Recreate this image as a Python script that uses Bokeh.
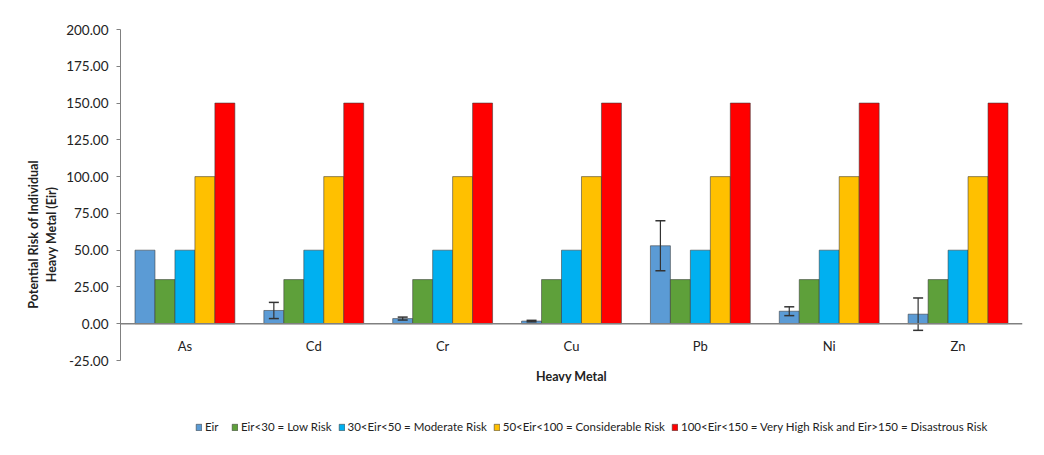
from bokeh.plotting import figure
from bokeh.models import (ColumnDataSource, FactorRange, Legend, LegendItem,
                          NumeralTickFormatter, FixedTicker, Range1d, Span, Label)
from bokeh.transform import dodge
from bokeh.core.properties import value
from bokeh.embed import file_html
from bokeh.resources import INLINE

metals = ["As", "Cd", "Cr", "Cu", "Pb", "Ni", "Zn"]
eir = [50.0, 9.0, 3.5, 1.8, 53.0, 8.5, 6.5]
eir_err = [0.0, 5.5, 1.0, 0.5, 17.0, 3.0, 11.0]
low_risk = [30, 30, 30, 30, 30, 30, 30]
moderate_risk = [50, 50, 50, 50, 50, 50, 50]
considerable_risk = [100, 100, 100, 100, 100, 100, 100]
very_high_risk = [150, 150, 150, 150, 150, 150, 150]
y_ticks = [-25, 0, 25, 50, 75, 100, 125, 150, 175, 200]

series_labels = ["Eir", "Eir<30 = Low Risk", "30<Eir<50 = Moderate Risk",
                 "50<Eir<100 = Considerable Risk",
                 "100<Eir<150 = Very High Risk and Eir>150 = Disastrous Risk"]
series_keys = ["eir", "low", "mod", "cons", "vhigh"]
colors = ["#5B9BD5", "#5EA03A", "#00B0F0", "#FFC000", "#FF0000"]
offsets = [-0.31, -0.155, 0.0, 0.155, 0.31]

FONT = "Lato"

src = ColumnDataSource(dict(
    metal=metals, eir=eir, low=low_risk, mod=moderate_risk,
    cons=considerable_risk, vhigh=very_high_risk,
    label_y=[-15] * len(metals),
))

err_m = [m for m, e in zip(metals, eir_err) if e > 0]
err_up = [v + e for v, e in zip(eir, eir_err) if e > 0]
err_lo = [v - e for v, e in zip(eir, eir_err) if e > 0]
err_src = ColumnDataSource(dict(metal=err_m, upper=err_up, lower=err_lo))

p = figure(x_range=FactorRange(factors=metals), y_range=Range1d(-78.7, 200),
           width=1028, height=439, output_backend="svg", toolbar_location=None,
           min_border_left=120, min_border_right=6, min_border_top=29, min_border_bottom=0)
p.x_range.range_padding = 0.0

renderers = []
for key, col, off in zip(series_keys, colors, offsets):
    r = p.vbar(x=dodge("metal", off, range=p.x_range), top=key, width=0.155, source=src,
               fill_color=col, line_color="#3a3a3a", line_width=0.8, line_alpha=0.7)
    renderers.append(r)

ex = dodge("metal", offsets[0], range=p.x_range)
p.segment(x0=ex, y0="lower", x1=ex, y1="upper", source=err_src,
          line_color="#333333", line_width=1.2)
p.scatter(x=ex, y="upper", source=err_src, marker="dash", size=10,
          line_color="#333333", line_width=1.5)
p.scatter(x=ex, y="lower", source=err_src, marker="dash", size=10,
          line_color="#333333", line_width=1.5)

zero = Span(location=0, dimension="width", line_color="#808080", line_width=1.5)
p.add_layout(zero)

p.text(x="metal", y="label_y", text="metal", source=src, text_align="center",
       text_baseline="middle", text_font=value(FONT), text_font_size="13px",
       text_color="#222222")

xtitle = Label(x=3.5, y=-36, text="Heavy Metal", text_align="center",
               text_baseline="middle", text_font=FONT, text_font_size="12.5px",
               text_font_style="bold", text_color="#222222")
p.add_layout(xtitle)

p.xgrid.visible = False
p.ygrid.visible = False
p.outline_line_color = None
p.background_fill_color = "white"
p.border_fill_color = "white"
p.xaxis.visible = False

p.yaxis.ticker = FixedTicker(ticks=y_ticks)
p.yaxis.bounds = (-25, 200)
p.yaxis.formatter = NumeralTickFormatter(format="0.00")
p.yaxis.minor_tick_line_color = None
p.yaxis.major_tick_out = 4
p.yaxis.major_tick_in = 0
p.yaxis.axis_line_color = "#808080"
p.yaxis.major_tick_line_color = "#808080"
p.yaxis.major_label_text_font = FONT
p.yaxis.major_label_text_font_size = "13.5px"
p.yaxis.major_label_text_color = "#222222"
p.yaxis.major_label_standoff = 8
p.yaxis.axis_label = "Potential Risk of Individual\nHeavy Metal (Eir)"
p.yaxis.axis_label_text_font = FONT
p.yaxis.axis_label_text_font_size = "12.5px"
p.yaxis.axis_label_text_font_style = "bold"
p.yaxis.axis_label_text_color = "#222222"
p.yaxis.axis_label_standoff = 4

legend = Legend(items=[LegendItem(label=l, renderers=[r]) for l, r in zip(series_labels, renderers)],
                orientation="horizontal", location=(75, 6),
                label_text_font=FONT, label_text_font_size="11.5px", label_text_color="#222222",
                glyph_width=7, glyph_height=8, label_standoff=3, spacing=6,
                border_line_color=None, background_fill_alpha=0, margin=0, padding=2)
p.add_layout(legend)

open("out.html", "w").write(file_html(p, INLINE))
